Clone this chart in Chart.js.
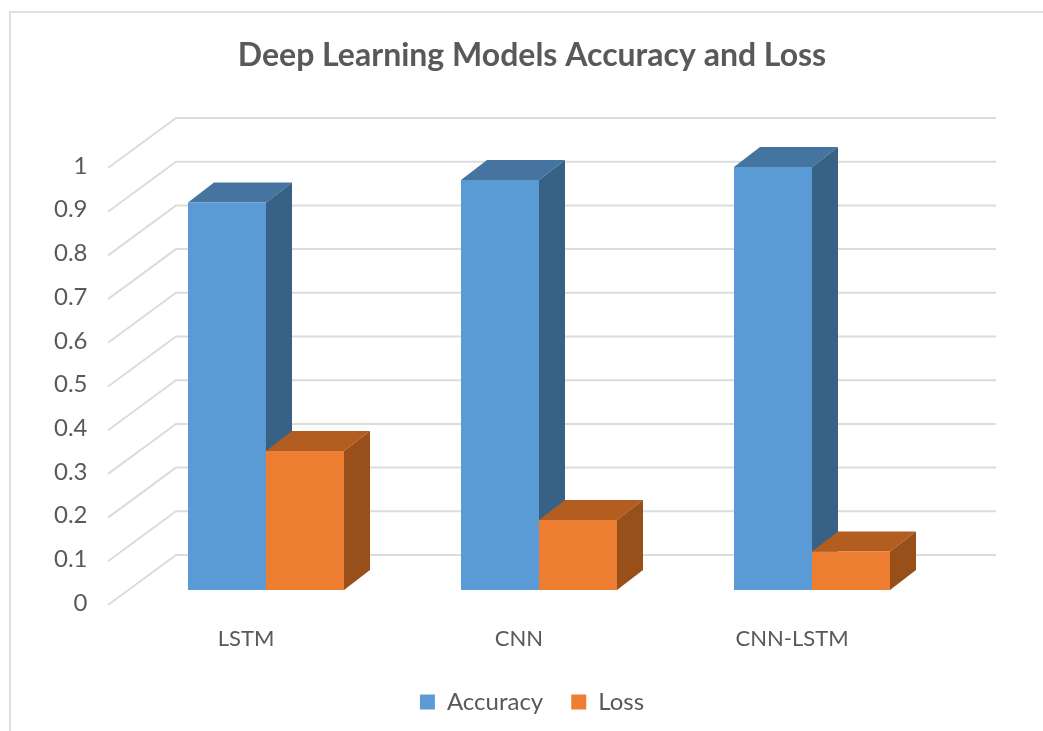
<!DOCTYPE html>
<html>
<head>
<meta charset="utf-8">
<title>Deep Learning Models Accuracy and Loss</title>
<script src="https://cdn.jsdelivr.net/npm/chart.js@4"></script>
<style>
  html, body { margin: 0; padding: 0; background: #fff; overflow: hidden; }
  #frame { position: absolute; left: 9px; top: 11px; right: 0; bottom: 0; border-left: 2px solid #e0e0e0; border-top: 2px solid #e0e0e0; }
  #chart { position: absolute; left: 0; top: 0; }
</style>
</head>
<body>
<div id="frame"></div>
<canvas id="chart" width="1043" height="731"></canvas>
<script>
// Values
const categories = ["LSTM", "CNN", "CNN-LSTM"];
const accuracy = [0.887, 0.938, 0.968];
const loss = [0.318, 0.16, 0.088];
const yTickLabels = ["0", "0.1", "0.2", "0.3", "0.4", "0.5", "0.6", "0.7", "0.8", "0.9", "1"];

const textColor = "#595959";
const gridColor = "#dcdcdc";
const fontName = "Lato, 'Open Sans', sans-serif";

// 3D look: how far the bar depth and the back wall are shifted
const barDepth = { x: 26, y: -20 };
const wall = { x: 46.5, y: -35, right: 47.5, frontX: -21.5, frontY: 15 };

function face(ctx, points, color) {
  ctx.fillStyle = color;
  ctx.beginPath();
  points.forEach((p, i) => (i ? ctx.lineTo(p[0], p[1]) : ctx.moveTo(p[0], p[1])));
  ctx.closePath();
  ctx.fill();
}

const depthPlugin = {
  id: "depth",
  beforeDatasetsDraw(chart) {
    const { ctx, chartArea, scales } = chart;
    ctx.save();

    // floor diagonals and back wall lines
    ctx.strokeStyle = gridColor;
    ctx.lineWidth = 2;
    scales.y.ticks.forEach((tick) => {
      const y = scales.y.getPixelForValue(tick.value);
      ctx.beginPath();
      ctx.moveTo(chartArea.left + wall.frontX, y + wall.frontY);
      ctx.lineTo(chartArea.left + wall.x, y + wall.y);
      ctx.lineTo(chartArea.right + wall.right, y + wall.y);
      ctx.stroke();
    });

    // top and side of every bar
    chart.data.datasets.forEach((ds, i) => {
      chart.getDatasetMeta(i).data.forEach((bar) => {
        const left = bar.x - bar.width / 2;
        const right = bar.x + bar.width / 2;
        const dx = barDepth.x;
        const dy = barDepth.y;
        face(ctx, [[left, bar.y], [right, bar.y], [right + dx, bar.y + dy], [left + dx, bar.y + dy]], ds.topColor);
        face(ctx, [[right, bar.y], [right + dx, bar.y + dy], [right + dx, bar.base + dy], [right, bar.base]], ds.sideColor);
      });
    });
    ctx.restore();
  },
};

new Chart(document.getElementById("chart"), {
  type: "bar",
  data: {
    labels: categories,
    datasets: [
      { label: "Accuracy", data: accuracy, backgroundColor: "#5B9BD5", topColor: "#44749F", sideColor: "#386186" },
      { label: "Loss", data: loss, backgroundColor: "#ED7D31", topColor: "#B35D20", sideColor: "#994F1A" },
    ],
  },
  options: {
    responsive: false,
    animation: false,
    layout: { padding: { left: 21, bottom: 7 } },
    datasets: { bar: { categoryPercentage: 0.5714, barPercentage: 1 } },
    plugins: {
      tooltip: { enabled: false },
      title: {
        display: true,
        text: "Deep Learning Models Accuracy and Loss",
        color: textColor,
        font: { family: fontName, size: 32, weight: "bold" },
        padding: { top: 36, bottom: 78.6 },
      },
      legend: {
        position: "bottom",
        labels: {
          color: textColor,
          font: { family: fontName, size: 24 },
          boxWidth: 15,
          boxHeight: 15,
          padding: 28,
        },
      },
    },
    scales: {
      x: {
        grid: { display: false, drawTicks: false },
        border: { display: false },
        ticks: { color: textColor, font: { family: fontName, size: 22 }, padding: 36, labelOffset: -20, maxRotation: 0 },
        afterFit(scale) { scale.height = 72; },
      },
      y: {
        min: 0,
        max: 1,
        grid: { display: false, drawTicks: false },
        border: { display: false },
        ticks: {
          stepSize: 0.1,
          color: textColor,
          font: { family: fontName, size: 24 },
          padding: 42,
          labelOffset: 13,
          callback: (value, index) => yTickLabels[index],
        },
        afterFit(scale) { scale.width = 108.5; },
      },
      // empty axis that only keeps the room right of the plot
      spacer: {
        position: "right",
        grid: { display: false, drawTicks: false },
        border: { display: false },
        ticks: { display: false },
        afterFit(scale) { scale.width = 94.5; },
      },
    },
  },
  plugins: [depthPlugin],
});
</script>
</body>
</html>
